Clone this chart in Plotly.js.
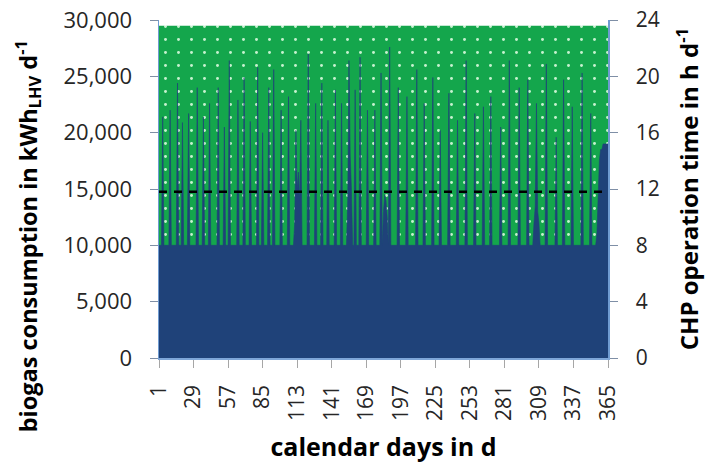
<!DOCTYPE html>
<html>
<head>
<meta charset="utf-8">
<script src="https://cdn.plot.ly/plotly-3.0.1.min.js"></script>
<style>
html,body{margin:0;padding:0;background:#fff;}
#chart{width:706px;height:463px;}
</style>
</head>
<body>
<div id="chart"></div>
<script>
// ---- data ----
const firstDay = 1;
const lastDay = 365;
const xTickDays = [1, 29, 57, 85, 113, 141, 169, 197, 225, 253, 281, 309, 337, 365];
const leftTicks = [0, 5000, 10000, 15000, 20000, 25000, 30000];
const rightTicks = [0, 4, 8, 12, 16, 20, 24];

// biogas available (green, dotted) – flat across the year
const biogasAvailDays = [1, 365];
const biogasAvailValues = [29500, 29500];

// mean CHP operation time (dashed line, right axis, h/d)
const opTimeDays = [1, 365];
const opTimeValues = [11.8, 11.8];

// daily biogas consumption (dark blue), kWh_LHV per day, days 1..365
const consumption = [
 10000,10000,10000,21400,10000,10000,10000,10000,10000,22000,
 10000,10000,10000,10000,10000,24400,10000,10000,10000,20900,
 10000,10000,10000,10000,21700,10000,10000,10000,10000,10000,
 10000,24000,10000,10000,10000,10000,21400,10000,10000,10000,
 10000,22600,10000,10000,10000,10000,10000,10000,24000,10000,
 10000,10000,10000,20500,10000,10000,10000,26400,10000,10000,
 10000,10000,10000,10000,22900,10000,10000,10000,10000,24900,
 10000,10000,10000,10000,21000,10000,10000,10000,10000,10000,
 25800,10000,10000,10000,20000,10000,10000,10000,10000,24000,
 10000,10000,10000,25600,10000,10000,10000,10000,10000,22000,
 10000,10000,10000,10000,10000,23200,10000,10000,10000,10000,
 12000,20200,15000,16500,14000,21100,10000,10000,10000,10000,
 10000,27000,10000,10000,10000,10000,10000,22600,10000,10000,
 10000,10000,24400,10000,10000,10000,10000,21100,10000,10000,
 10000,10000,10000,23800,10000,10000,10000,10000,22600,10000,
 10000,10000,10000,14000,26400,18000,15000,10000,10000,23800,
 10000,10000,10000,26700,10000,10000,10000,10000,10000,22000,
 10000,10000,10000,10000,10000,22000,10000,10000,10000,10000,
 25300,10000,13000,14500,14000,12500,10000,27600,10000,10000,
 10000,10000,10000,10000,24000,10000,10000,10000,10000,10000,
 10000,23200,10000,10000,10000,10000,10000,10000,10000,25600,
 10000,10000,10000,10000,10000,22600,10000,10000,10000,10000,
 10000,10000,24900,10000,10000,10000,10000,10000,20200,10000,
 10000,10000,10000,10000,10000,23500,10000,10000,10000,10000,
 10000,10000,21100,10000,10000,10000,10000,10000,10000,26400,
 10000,10000,10000,10000,10000,10000,21700,10000,10000,10000,
 10000,10000,10000,22300,10000,10000,10000,10000,10000,23200,
 10000,10000,10000,10000,10000,10000,10000,20500,10000,10000,
 10000,10000,10000,10000,26400,10000,10000,10000,10000,10000,
 10000,10000,24000,10000,10000,10000,10000,10000,10000,24700,
 10000,10000,10000,10000,12000,13400,22600,13000,12000,10000,
 10000,10000,10000,10000,26100,10000,10000,10000,10000,10000,
 10000,10000,19600,10000,10000,10000,10000,10000,24700,10000,
 10000,10000,10000,10000,10000,22300,10000,10000,10000,10000,
 10000,10000,10000,25300,10000,10000,10000,10000,10000,10000,
 21700,10000,10000,10000,10000,11000,14000,17500,18500,18500,
 19000,19000,19000,19000,19000
];
const days = consumption.map((_, i) => firstDay + i);

// ---- chart ----
const GREEN = '#14a64c';
const BLUE = '#1f4279';
const FONT = 'Open Sans, Lato, sans-serif';

const traces = [
  {
    x: biogasAvailDays, y: biogasAvailValues, type: 'scatter', mode: 'lines',
    fill: 'tozeroy', fillcolor: GREEN,
    fillpattern: {shape: '.', bgcolor: GREEN, fgcolor: '#c6f2cf', size: 13, solidity: 0.04, fillmode: 'replace'},
    line: {width: 0, color: GREEN}, hoverinfo: 'skip', showlegend: false
  },
  {
    x: days, y: consumption, type: 'scatter', mode: 'lines',
    fill: 'tozeroy', fillcolor: BLUE,
    line: {width: 0.6, color: BLUE}, showlegend: false
  },
  {
    x: opTimeDays, y: opTimeValues, type: 'scatter', mode: 'lines', yaxis: 'y2',
    line: {color: '#000000', width: 2.5, dash: '8px,7px'}, showlegend: false
  }
];

const layout = {
  width: 706, height: 463,
  margin: {l: 159, r: 98, t: 20, b: 105},
  paper_bgcolor: '#ffffff', plot_bgcolor: '#ffffff',
  font: {family: FONT, color: '#262626'},
  showlegend: false,
  xaxis: {
    range: [firstDay, lastDay], tickmode: 'array', tickvals: xTickDays,
    ticktext: xTickDays.map(String), tickangle: -90,
    ticks: 'outside', ticklen: 8, tickcolor: '#a6a6a6', tickwidth: 1,
    ticklabelstandoff: 9,
    showline: true, linecolor: '#7ea6d8', linewidth: 1.5,
    showgrid: false, zeroline: false,
    tickfont: {family: FONT, size: 21, color: '#262626'},
    title: {text: 'calendar days in d', font: {family: FONT, size: 25, color: '#000000', weight: 'bold'}, standoff: 18}
  },
  yaxis: {
    range: [0, 30000], tickmode: 'array', tickvals: leftTicks,
    ticktext: leftTicks.map(v => v.toLocaleString('en-US')),
    ticks: 'outside', ticklen: 8, tickcolor: '#7f8fa6', tickwidth: 1,
    ticklabelstandoff: 13,
    showline: true, linecolor: '#6f9bd1', linewidth: 1.5,
    showgrid: true, gridcolor: '#dcdbe8', gridwidth: 2, zeroline: false,
    tickfont: {family: FONT, size: 22, color: '#262626'}
  },
  yaxis2: {
    overlaying: 'y', side: 'right',
    range: [0, 24], tickmode: 'array', tickvals: rightTicks,
    ticktext: rightTicks.map(String),
    ticks: 'outside', ticklen: 8, tickcolor: '#7f8fa6', tickwidth: 1,
    ticklabelstandoff: 14,
    showline: true, linecolor: '#6f9bd1', linewidth: 1.5,
    showgrid: false, zeroline: false,
    tickfont: {family: FONT, size: 21, color: '#262626'},
    title: {text: 'CHP operation time in h d<sup>-1</sup>', font: {family: FONT, size: 24, color: '#000000', weight: 'bold'}, standoff: 22}
  },
  annotations: [{
    text: 'biogas consumption in kWh<sub>LHV</sub> d<sup>-1</sup>',
    xref: 'paper', yref: 'paper', x: 0, y: 0.36, xanchor: 'center', yanchor: 'middle',
    xshift: -131, textangle: -90, showarrow: false,
    font: {family: FONT, size: 23.5, color: '#000000', weight: 'bold'}
  }]
};

Plotly.newPlot('chart', traces, layout, {displayModeBar: false, staticPlot: true});
</script>
</body>
</html>
